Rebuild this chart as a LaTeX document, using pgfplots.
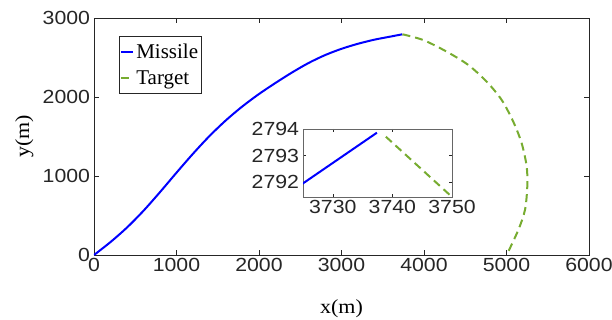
\documentclass[border=0pt]{standalone}
\usepackage{pgfplots}
\pgfplotsset{compat=1.18}
\usepackage{fontspec}
\setmainfont{Liberation Serif}
\newfontfamily\ticksans{Liberation Sans}
\definecolor{mblue}{RGB}{0,0,255}
\definecolor{tgreen}{RGB}{119,172,48}
\definecolor{axcol}{RGB}{38,38,38}
\begin{document}
\begin{tikzpicture}
\useasboundingbox (-94bp,-65bp) rectangle (518bp,255bp);
\pgfplotsset{
  common/.style={
    scale only axis,
    axis line style={axcol, line width=0.6bp},
    tick style={axcol, line width=0.6bp},
    tick align=inside,
    major tick length=5bp,
    ticklabel style={font=\fontsize{19bp}{22bp}\ticksans, text=axcol, xscale=1.12},
    /pgf/number format/assume math mode=true,
    /pgf/number format/set thousands separator={},
    scaled ticks=false,
    xtick pos=both, ytick pos=both,
  }
}
\begin{axis}[common,
  at={(0,0)}, anchor=south west,
  width=495bp, height=237bp,
  xmin=0, xmax=6000, ymin=0, ymax=3000,
  xtick={0,1000,...,6000}, ytick={0,1000,2000,3000},
  xlabel={x(m)}, ylabel={y(m)},
  label style={font=\fontsize{20bp}{24bp}\selectfont, xscale=1.1},
  xlabel style={yshift=-21bp},
  ylabel style={yshift=2bp},
  legend style={at={(axis description cs:0.0505,0.924)}, anchor=north west,
    draw=axcol, line width=0.6bp, font=\fontsize{21bp}{25bp}\selectfont,
    inner xsep=1bp, inner ysep=6bp, row sep=6bp, legend cell align=left,
    nodes={inner xsep=2bp}},
  legend image code/.code={\draw[#1] (0bp,0bp) -- (12bp,0bp);},
]
\addplot[mblue, line width=2bp, smooth] coordinates {
(0,0) (200,164) (400,348) (600,560) (800,796) (1000,1042) (1200,1282)
(1400,1506) (1600,1706) (1800,1882) (2000,2038) (2200,2178) (2400,2310)
(2600,2430) (2800,2530) (3000,2610) (3200,2674) (3400,2726) (3600,2766)
(3737.4,2793.86)
};
\addlegendentry{Missile}
\addplot[tgreen, line width=2bp, dash pattern=on 8bp off 5bp, smooth] coordinates {
(3738.9,2793.71) (3991,2721) (4275,2574) (4537,2405) (4760,2194)
(4942,1962) (5082,1688) (5184,1414) (5245,1118) (5252,865) (5224,570) (5143,316) (5002,0)
};
\addlegendentry{Target}
\end{axis}
\begin{axis}[common,
  at={(209bp,58bp)}, anchor=south west,
  width=149bp, height=68bp,
  axis background/.style={fill=white},
  axis line style={gray!80!black, line width=0.6bp},
  xmin=3725, xmax=3750, ymin=2791.45, ymax=2794,
  xtick={3730,3740,3750}, ytick={2792,2793,2794},
  major tick length=3bp,
  clip=true,
]
\addplot[mblue, line width=2bp] coordinates {
(3600,2771) (3725,2791.96) (3737.4,2793.86)
};
\addplot[tgreen, line width=2bp, dash pattern=on 8bp off 5bp] coordinates {
(3738.9,2793.71) (3750,2791.45) (3991,2721)
};
\end{axis}
\end{tikzpicture}
\end{document}
